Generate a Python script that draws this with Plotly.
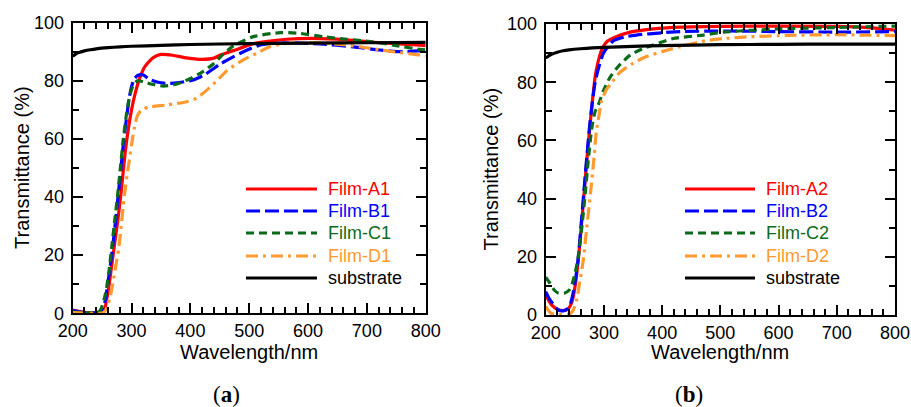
import plotly.graph_objects as go

# ---------------- data: panel (a) ----------------
wl_A1 = [200, 210, 220, 240, 250, 255, 258, 262, 266, 270, 276, 282, 289, 295, 300, 306, 314, 323, 337, 350, 370, 390, 420, 440, 450, 475, 507, 564, 609, 666, 722, 790, 800]
T_A1 = [1.0, 0.7, 0.3, 0.3, 0.5, 2, 5, 10, 16, 22, 31, 41, 55, 64, 70, 75.5, 81, 85, 88, 89.1, 88.8, 88, 87.4, 87.8, 88.8, 90.5, 92.8, 94.3, 94.6, 94.1, 93.1, 92.3, 92.1]

wl_B1 = [200, 210, 220, 245, 250, 255, 258, 263, 268, 273, 278, 282, 287, 292, 296, 300, 305, 312, 320, 330, 345, 360, 380, 405, 425, 450, 485, 518, 564, 620, 677, 722, 762, 800]
T_B1 = [1.0, 0.5, 0.2, 0.3, 1, 4, 8, 15, 23, 32, 42, 50, 60, 68, 74, 78, 80.8, 82, 82, 80.6, 79.5, 79.1, 79.4, 80.3, 82.2, 85.7, 89.5, 92.3, 93.1, 92.7, 91.7, 90.6, 90.0, 90.5]

wl_C1 = [200, 220, 243, 248, 253, 257, 262, 267, 272, 276, 281, 286, 291, 297, 303, 310, 320, 335, 354, 375, 400, 420, 439, 455, 473, 507, 553, 587, 626, 666, 706, 745, 790, 800]
T_C1 = [0.5, 0.2, 0.3, 1.5, 4.5, 8, 15, 24, 33, 40, 50, 60, 68, 75, 78.5, 80, 79.7, 78.8, 78.2, 78.8, 80.8, 83, 85.8, 89, 92, 95.2, 96.6, 96.3, 95.2, 94.3, 93.5, 92.3, 90.8, 90.6]

wl_D1 = [200, 250, 256, 260, 264, 268, 273, 278, 282, 286, 290, 295, 300, 305, 310, 317, 330, 360, 394, 410, 428, 445, 462, 490, 513, 535, 564, 620, 666, 705, 745, 790, 800]
T_D1 = [0.2, 0.1, 1, 3, 6, 10, 16, 22, 29, 37, 44, 51, 58, 64, 68, 70, 71, 71.7, 72.8, 74, 76.8, 80, 83.5, 87.2, 89.5, 91.7, 92.9, 93.1, 92.3, 91.2, 90, 88.9, 88.5]

wl_Sa = [200, 205, 210, 220, 230, 240, 260, 280, 300, 350, 400, 500, 600, 700, 800]
T_Sa = [88.5, 89.2, 89.7, 90.3, 90.7, 91.0, 91.4, 91.7, 91.9, 92.2, 92.5, 92.8, 93.0, 93.1, 93.2]

# ---------------- data: panel (b) ----------------
wl_A2 = [200, 205, 210, 220, 230, 238, 243, 247, 252, 256, 261, 266, 271, 276, 281, 285, 290, 296, 305, 320, 345, 370, 400, 450, 500, 600, 700, 760, 800]
T_A2 = [7, 5, 3.5, 2, 1.5, 2, 3.5, 6, 12, 19, 30, 42, 54, 65, 75, 82, 87, 91, 93.9, 95.5, 97.2, 98, 98.6, 99, 99.2, 99.3, 99.2, 98.7, 97.9]

wl_B2 = [200, 205, 210, 220, 227, 235, 241, 246, 251, 255, 260, 265, 270, 275, 280, 285, 291, 299, 308, 316, 335, 356, 400, 431, 516, 600, 700, 800]
T_B2 = [8, 6, 4.5, 2, 1.4, 1.8, 3, 6.5, 12, 18, 29, 41, 53, 64, 73, 80, 85, 89.9, 92.5, 94.2, 95.5, 96.2, 97, 97.4, 97.6, 97.4, 97.2, 97.4]

wl_C2 = [200, 207, 215, 222, 232, 240, 245, 250, 256, 262, 268, 273, 279, 285, 290, 299, 310, 325, 345, 368, 419, 471, 505, 600, 700, 800]
T_C2 = [13, 11, 8.5, 7.5, 7.5, 8.5, 10.5, 14, 20, 30, 42, 53, 64, 70, 72, 77, 81.5, 85.5, 89.3, 91.6, 95, 96.2, 97.2, 98.3, 98.8, 99.3]

wl_D2 = [200, 205, 210, 220, 240, 247, 253, 259, 264, 270, 277, 282, 287, 291, 296, 303, 312, 328, 350, 373, 400, 431, 476, 505, 550, 620, 700, 800]
T_D2 = [3, 1.5, 0.5, 0.2, 0.3, 1.5, 5, 12, 18, 29, 42, 52, 63, 68, 73.5, 77, 79.5, 83.5, 86.5, 88.8, 90.5, 92.2, 94.3, 95, 95.6, 96.1, 96.3, 96]

wl_Sb = [200, 205, 210, 220, 230, 240, 260, 280, 300, 350, 400, 500, 600, 700, 800]
T_Sb = [88.3, 89.0, 89.6, 90.3, 90.8, 91.1, 91.5, 91.8, 92.0, 92.3, 92.6, 92.9, 93.0, 93.1, 93.1]

names_a = ["Film-A1", "Film-B1", "Film-C1", "Film-D1", "substrate"]
names_b = ["Film-A2", "Film-B2", "Film-C2", "Film-D2", "substrate"]
x_ticks = [200, 300, 400, 500, 600, 700, 800]
y_ticks = [0, 20, 40, 60, 80, 100]

colors = ["#ff0000", "#0000ff", "#0b6b1b", "#ff9a30", "#000000"]
dashes = ["solid", "14px,5px", "8px,5px", "12px,5px,3px,5px", "solid"]

W, H = 911, 407
def px(x):
    return x / W
def py(y):
    return 1 - y / H

FONT = "Liberation Sans, Arial, sans-serif"

fig = go.Figure()

series_a = [(wl_A1, T_A1), (wl_B1, T_B1), (wl_C1, T_C1), (wl_D1, T_D1), (wl_Sa, T_Sa)]
series_b = [(wl_A2, T_A2), (wl_B2, T_B2), (wl_C2, T_C2), (wl_D2, T_D2), (wl_Sb, T_Sb)]

for i, (xs, ys) in enumerate(series_a):
    fig.add_trace(go.Scatter(x=xs, y=ys, mode="lines", name=names_a[i], showlegend=False,
                             line=dict(color=colors[i], width=3.2, dash=dashes[i], shape="spline", smoothing=0.6),
                             xaxis="x", yaxis="y"))
for i, (xs, ys) in enumerate(series_b):
    fig.add_trace(go.Scatter(x=xs, y=ys, mode="lines", name=names_b[i], showlegend=False,
                             line=dict(color=colors[i], width=3.2, dash=dashes[i], shape="spline", smoothing=0.6),
                             xaxis="x2", yaxis="y2"))

def xaxis(domain, anchor):
    return dict(domain=domain, anchor=anchor, range=[200, 800], tickvals=x_ticks,
                ticks="inside", ticklen=10, tickwidth=1.5, tickcolor="black",
                showline=True, linecolor="black", linewidth=2, mirror="allticks",
                minor=dict(dtick=20, tick0=200, ticks="inside", ticklen=6, tickwidth=1.5, tickcolor="black"),
                showgrid=False, zeroline=False, automargin=False,
                tickfont=dict(family=FONT, size=18, color="black"))

def yaxis(domain, anchor):
    return dict(domain=domain, anchor=anchor, range=[0, 100], tickvals=y_ticks,
                ticks="inside", ticklen=10, tickwidth=1.5, tickcolor="black",
                showline=True, linecolor="black", linewidth=2, mirror="allticks",
                minor=dict(dtick=10, tick0=0, ticks="inside", ticklen=6, tickwidth=1.5, tickcolor="black"),
                showgrid=False, zeroline=False, ticklabelstandoff=3, automargin=False,
                tickfont=dict(family=FONT, size=18, color="black"))

panels = [
    dict(x0=72.7, x1=425.7, y0=22.7, y1=313.3, names=names_a, leg_x0=246, leg_x1=317, leg_tx=326, label="(<b>a</b>)", lab_x=226, ytitle_x=22),
    dict(x0=545.7, x1=895.0, y0=24.0, y1=315.0, names=names_b, leg_x0=685, leg_x1=755, leg_tx=764, label="(<b>b</b>)", lab_x=689, ytitle_x=490),
]

layout = dict(width=W, height=H, margin=dict(l=0, r=0, t=0, b=0, autoexpand=False),
              paper_bgcolor="white", plot_bgcolor="white", showlegend=False)
p = panels[0]
layout["xaxis"] = xaxis([px(p["x0"]), px(p["x1"])], "y")
layout["yaxis"] = yaxis([py(p["y1"]), py(p["y0"])], "x")
p = panels[1]
layout["xaxis2"] = xaxis([px(p["x0"]), px(p["x1"])], "y2")
layout["yaxis2"] = yaxis([py(p["y1"]), py(p["y0"])], "x2")
fig.update_layout(**layout)

row_y = [189, 211, 233, 256, 278]
for p in panels:
    # axis titles
    fig.add_annotation(x=px((p["x0"] + p["x1"]) / 2), y=py(352), xref="paper", yref="paper",
                       text="Wavelength/nm", showarrow=False, xanchor="center", yanchor="middle",
                       font=dict(family=FONT, size=20, color="black"))
    fig.add_annotation(x=px(p["ytitle_x"]), y=py((p["y0"] + p["y1"]) / 2), xref="paper", yref="paper",
                       text="Transmittance (%)", showarrow=False, textangle=-90,
                       xanchor="center", yanchor="middle",
                       font=dict(family=FONT, size=20, color="black"))
    # panel label
    fig.add_annotation(x=px(p["lab_x"]), y=py(394), xref="paper", yref="paper",
                       text=p["label"], showarrow=False, xanchor="center", yanchor="middle",
                       font=dict(family="Liberation Serif, Times New Roman, serif", size=23, color="black"))
    # manual legend
    for i, nm in enumerate(p["names"]):
        fig.add_shape(type="line", xref="paper", yref="paper",
                      x0=px(p["leg_x0"]), x1=px(p["leg_x1"]), y0=py(row_y[i]), y1=py(row_y[i]),
                      line=dict(color=colors[i], width=3.2, dash=dashes[i]))
        fig.add_annotation(x=px(p["leg_tx"]), y=py(row_y[i]), xref="paper", yref="paper",
                           text=nm, showarrow=False, xanchor="left", yanchor="middle",
                           font=dict(family=FONT, size=18, color=colors[i]))

fig.write_html("out.html", config={"displayModeBar": False},
               post_script="document.body.style.margin='0';document.body.style.overflow='hidden';")
